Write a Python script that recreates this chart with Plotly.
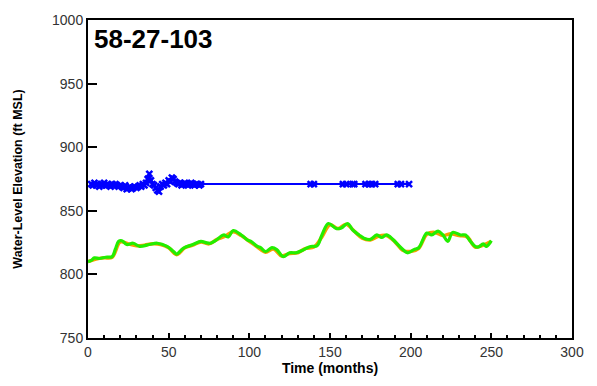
import plotly.graph_objects as go

# Well 58-27-103: measured water levels (blue) and simulated levels (green/orange)
meas_months = [2, 3, 4, 5, 6, 7, 8, 9, 10, 11, 12, 13, 14, 15, 16, 17, 18, 19, 20,
               21, 22, 23, 24, 25, 26, 27, 28, 29, 30, 31, 32, 33, 34, 35, 36, 37,
               38, 39, 40, 41, 42, 43, 44, 45, 46, 47, 48, 49, 50, 51, 52, 53, 54,
               55, 56, 57, 58, 59, 60, 61, 62, 63, 64, 65, 66, 67, 68, 69, 70,
               138, 140, 158, 160, 164, 165, 172, 174, 176, 178, 192, 194, 199]
meas_levels = [871, 870, 872, 870, 871, 869, 871, 870, 872, 870, 871, 870, 869, 871,
               870, 871, 870, 869, 870, 869, 868, 870, 867, 868, 869, 867, 868, 869,
               868, 869, 870, 869, 871, 870, 872, 875, 879, 874, 871, 870, 868, 866,
               865, 869, 871, 870, 872, 871, 874, 873, 876, 875, 873, 872, 871, 872,
               870, 871, 872, 871, 870, 871, 872, 871, 870, 871, 871, 870, 871,
               871, 871, 871, 871, 871, 871, 871, 871, 871, 871, 871, 871, 871]

sim_months = [0, 2, 4, 7, 11, 15, 17, 19, 21, 24, 28, 32, 38, 43, 49, 53, 55, 59,
              65, 70, 73, 76, 79, 84, 87, 90, 95, 99, 101, 105, 107, 110, 114, 117,
              121, 125, 129, 133, 138, 142, 145, 149, 154, 157, 161, 164, 168, 171,
              175, 179, 182, 185, 189, 194, 198, 202, 205, 210, 213, 217, 220, 223,
              226, 231, 234, 237, 240, 242, 245, 247, 250]
sim_levels = [810, 811, 813, 812.5, 813.5, 814, 820, 826, 826.5, 823.5, 824.5, 822,
              823.5, 824.5, 822, 818, 816, 820.5, 823.5, 826, 825, 824.5, 826.5, 831,
              829.5, 834.5, 831, 827, 826, 822, 821, 818, 821, 819.5, 814, 817, 817,
              819, 822, 822.5, 831, 840, 836, 836.5, 840, 835, 831, 828.5, 827.5, 831,
              829, 831, 827.5, 821, 817, 819.5, 821, 832.5, 831, 834, 831, 826, 833,
              831, 831, 826, 822, 821.5, 824, 822, 826.5]

alt_months = [0, 5, 10, 15, 20, 25, 30, 35, 40, 45, 50, 55, 60, 65, 70, 75, 80, 85,
              90, 95, 100, 105, 110, 115, 120, 125, 130, 135, 140, 145, 150, 155, 160,
              165, 170, 175, 180, 185, 190, 195, 200, 205, 210, 215, 220, 225, 230,
              235, 240, 245, 250]
alt_levels = [810, 812, 813, 813.5, 825.5, 824, 822.5, 823, 824, 823.5, 821, 815.5,
              821, 823, 825.5, 824, 827.5, 830, 833.5, 830.5, 826, 821.5, 817.5, 820,
              814.5, 816.5, 817, 820.5, 821.5, 829.5, 839, 836, 839.5, 834, 828.5,
              827, 830, 830.5, 826, 819, 818, 820.5, 831.5, 833, 830.5, 832, 830.5,
              829.5, 821.5, 823, 826]

FONT = "Liberation Sans, Arial"

fig = go.Figure()

fig.add_trace(go.Scatter(
    x=alt_months, y=alt_levels, mode="lines", line_shape="spline",
    line=dict(color="#f5a000", width=3.5), showlegend=False))
fig.add_trace(go.Scatter(
    x=sim_months, y=sim_levels, mode="lines", line_shape="spline",
    line=dict(color="#22ee00", width=3.2), showlegend=False))
fig.add_trace(go.Scatter(
    x=meas_months, y=meas_levels, mode="lines+markers",
    line=dict(color="#0000ff", width=2),
    marker=dict(symbol="x-thin", size=6, line=dict(color="#0000ff", width=2.5)),
    showlegend=False))

axis_common = dict(showline=True, linecolor="black", linewidth=2, mirror=True,
                   showgrid=False, zeroline=False, ticks="inside",
                   tickcolor="black", tickwidth=2,
                   tickfont=dict(family=FONT, size=14, color="#333333"))

fig.update_xaxes(range=[0, 300], dtick=50, ticklen=5,
                 minor=dict(dtick=10, ticks="inside", ticklen=3, tickwidth=2,
                            tickcolor="black"),
                 title=dict(text="<b>Time (months)</b>", standoff=4,
                            font=dict(family=FONT, size=14, color="black")),
                 **axis_common)
fig.update_yaxes(range=[750, 1000], dtick=50, ticklen=9,
                 title=dict(text="<b>Water-Level Elevation (ft MSL)</b>", standoff=27,
                            font=dict(family=FONT, size=12.5, color="black")),
                 **axis_common)

fig.add_annotation(text="<b>58-27-103</b>", xref="paper", yref="paper",
                   x=0.008, y=0.995, xanchor="left", yanchor="top", showarrow=False,
                   font=dict(family=FONT, size=26, color="black"))

fig.update_layout(width=597, height=386, plot_bgcolor="white", paper_bgcolor="white",
                  margin=dict(l=88, r=25, t=15, b=48))

fig.write_html("out.html")
